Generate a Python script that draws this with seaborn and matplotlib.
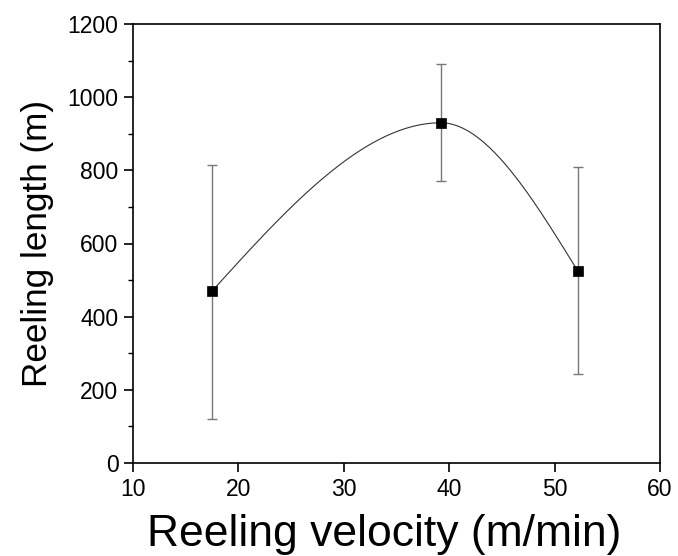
import numpy as np
import pandas as pd
import matplotlib
matplotlib.use("Agg")
import matplotlib.pyplot as plt
import seaborn as sns
from matplotlib.ticker import MultipleLocator

velocity = [17.5, 39.2, 52.2]
length = [470, 930, 525]
err_low = [120, 770, 243]
err_high = [815, 1090, 808]

sns.set_theme(style="ticks")
plt.rcParams['font.family'] = ['Liberation Sans', 'DejaVu Sans']


def smooth_curve(x, y, n=80):
    """Piecewise cubic Hermite: zero slope at interior extrema, free (f''=0) ends."""
    x = np.asarray(x, float); y = np.asarray(y, float)
    k = len(x); h = np.diff(x); d = np.diff(y) / h
    m = np.zeros(k)
    for i in range(1, k - 1):
        if d[i - 1] * d[i] > 0:
            m[i] = 2 / (1 / d[i - 1] + 1 / d[i])
    m[0] = (3 * d[0] - m[1]) / 2
    m[-1] = (3 * d[-1] - m[-2]) / 2
    xs_all, ys_all = [], []
    for i in range(k - 1):
        t = np.linspace(0, 1, n)
        h00 = 2 * t**3 - 3 * t**2 + 1; h10 = t**3 - 2 * t**2 + t
        h01 = -2 * t**3 + 3 * t**2; h11 = t**3 - t**2
        xs_all.append(x[i] + t * h[i])
        ys_all.append(h00 * y[i] + h10 * h[i] * m[i] + h01 * y[i + 1] + h11 * h[i] * m[i + 1])
    return np.concatenate(xs_all), np.concatenate(ys_all)


df = pd.DataFrame({"v": velocity, "L": length})
xs, ys = smooth_curve(velocity, length)
curve = pd.DataFrame({"v": xs, "L": ys})

fig = plt.figure(figsize=(6.78, 5.56), dpi=100)
ax = fig.add_axes([133 / 678, 1 - 463 / 556, (660 - 133) / 678, (463 - 24) / 556])

yerr = np.array([np.array(length) - np.array(err_low), np.array(err_high) - np.array(length)])
ax.errorbar(velocity, length, yerr=yerr, fmt='none', ecolor='#777777', elinewidth=1.0,
            capsize=3.3, capthick=1.0, zorder=2)
sns.lineplot(data=curve, x="v", y="L", ax=ax, color='#333333', linewidth=0.8, zorder=3,
             sort=False, estimator=None)
sns.scatterplot(data=df, x="v", y="L", ax=ax, marker='s', s=50, color='black',
                edgecolor='black', linewidth=0.5, zorder=4)

ax.set_xlim(10, 60)
ax.set_ylim(0, 1200)
ax.xaxis.set_major_locator(MultipleLocator(10))
ax.yaxis.set_major_locator(MultipleLocator(200))
ax.yaxis.set_minor_locator(MultipleLocator(100))
ax.tick_params(axis='both', which='major', direction='out', length=6.5, width=1.2,
               labelsize=16.5, colors='black', labelcolor='black', top=False, right=False, pad=4)
ax.tick_params(axis='y', which='minor', direction='out', length=3.5, width=1.0, left=True,
               colors='black')
for s in ax.spines.values():
    s.set_linewidth(1.2); s.set_color('black'); s.set_visible(True)
ax.set_xlabel("Reeling velocity (m/min)", fontsize=32, labelpad=10, color='black')
ax.set_ylabel("Reeling length (m)", fontsize=25.3, labelpad=10, color='black')
ax.xaxis.label.set_x(0.476)

fig.savefig("out.png", dpi=100)
